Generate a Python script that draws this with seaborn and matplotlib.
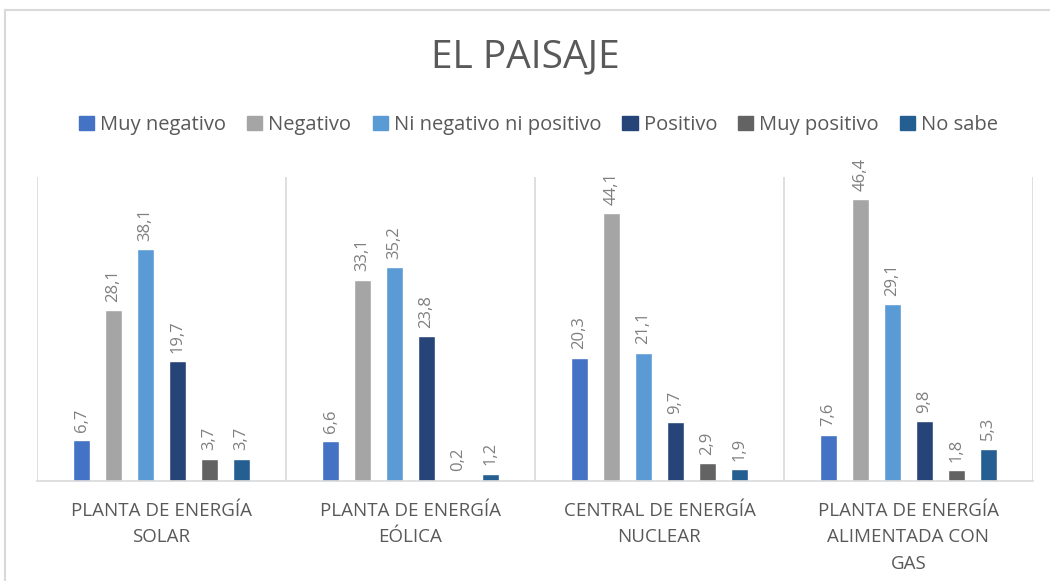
import matplotlib
matplotlib.use("Agg")
import matplotlib.pyplot as plt
import seaborn as sns
import pandas as pd
from matplotlib.patches import Rectangle

# Datos del grafico
categorias = ["PLANTA DE ENERGÍA\nSOLAR", "PLANTA DE ENERGÍA\nEÓLICA",
              "CENTRAL DE ENERGÍA\nNUCLEAR", "PLANTA DE ENERGÍA\nALIMENTADA CON\nGAS"]
series = ["Muy negativo", "Negativo", "Ni negativo ni positivo",
          "Positivo", "Muy positivo", "No sabe"]
muy_negativo = [6.7, 6.6, 20.3, 7.6]
negativo = [28.1, 33.1, 44.1, 46.4]
ni_neg_ni_pos = [38.1, 35.2, 21.1, 29.1]
positivo = [19.7, 23.8, 9.7, 9.8]
muy_positivo = [3.7, 0.2, 2.9, 1.8]
no_sabe = [3.7, 1.2, 1.9, 5.3]
colores = ["#4472C4", "#A5A5A5", "#5B9BD5", "#264478", "#636363", "#255E91"]

valores = [muy_negativo, negativo, ni_neg_ni_pos, positivo, muy_positivo, no_sabe]
filas = []
for serie, vals in zip(series, valores):
    for cat, v in zip(categorias, vals):
        filas.append({"categoria": cat, "serie": serie, "valor": v})
df = pd.DataFrame(filas)

sns.set_style("white")
plt.rcParams["font.family"] = ["Open Sans", "DejaVu Sans"]

fig = plt.figure(figsize=(10.5, 5.81), dpi=100)
ax = fig.add_axes([0.0352, 0.1721, 0.9486, 0.5233])

sns.barplot(data=df, x="categoria", y="valor", hue="serie", palette=colores,
            order=categorias, hue_order=series, width=0.77, gap=0.47,
            legend=False, ax=ax, saturation=1)

# etiquetas de valores
for cont in ax.containers:
    etiquetas = [f"{b.get_height():.1f}".replace(".", ",") for b in cont]
    ax.bar_label(cont, labels=etiquetas, rotation=90, padding=6,
                 color="#7f7f7f", fontsize=12)

ax.set_ylim(0, 50)
ax.set_xlim(-0.5, len(categorias) - 0.5)
ax.vlines([i - 0.5 for i in range(len(categorias) + 1)], 0, 50,
          color="#d9d9d9", linewidth=1.2, zorder=0)
for s in ["top", "left", "right"]:
    ax.spines[s].set_visible(False)
ax.spines["bottom"].set_color("#d9d9d9")
ax.spines["bottom"].set_linewidth(1.2)
ax.set_yticks([])
ax.set_xlabel("")
ax.set_ylabel("")
ax.tick_params(axis="x", length=0, pad=15)
ax.set_xticks(range(len(categorias)))
ax.set_xticklabels(categorias, color="#595959", fontsize=13.5, linespacing=1.6)

# leyenda
handles = [Rectangle((0, 0), 1, 1, color=c) for c in colores]
fig.legend(handles, series, loc="center", bbox_to_anchor=(0.513, 0.785), ncol=6,
           frameon=False, fontsize=14.5, handlelength=0.75, handleheight=0.75,
           handletextpad=0.3, columnspacing=1.05, labelcolor="#595959")

fig.text(0.5, 0.902, "EL PAISAJE", ha="center", va="center",
         fontsize=28, color="#595959")

# borde de la figura
fig.patches.append(Rectangle((5 / 1050, -0.1), 1.2, 1 - 10 / 581 + 0.1,
                             transform=fig.transFigure, fill=False,
                             edgecolor="#d9d9d9", linewidth=1.5))

fig.savefig("out.png", dpi=100)
